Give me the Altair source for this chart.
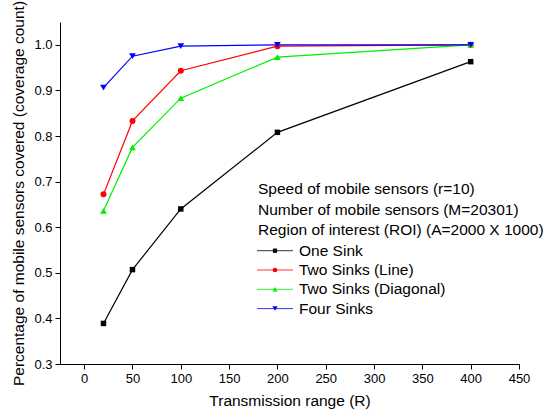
import altair as alt
import pandas as pd

series = ["One Sink", "Two Sinks (Line)", "Two Sinks (Diagonal)", "Four Sinks"]
colors = ["#000000", "#ff0000", "#00ee00", "#0000ff"]
shapes = ["square", "circle", "triangle-up", "triangle-down"]
ranges = [20, 50, 100, 200, 400]
one_sink = [0.389, 0.507, 0.640, 0.808, 0.963]
two_line = [0.672, 0.833, 0.943, 0.997, 1.000]
two_diag = [0.636, 0.775, 0.883, 0.973, 1.000]
four_sinks = [0.906, 0.975, 0.997, 1.000, 1.000]
legend_title = ["Speed of mobile sensors (r=10)", "Number of mobile sensors (M=20301)",
                "Region of interest (ROI) (A=2000 X 1000)"]

values = [one_sink, two_line, two_diag, four_sinks]
rows = []
for s, vals in zip(series, values):
    for r, v in zip(ranges, vals):
        rows.append({"R": r, "P": v, "series": s})
df = pd.DataFrame(rows)

FONT = "Liberation Sans"

x_major = list(range(0, 451, 50))
y_major = [round(0.3 + 0.1 * i, 1) for i in range(0, 8)]

common_axis = dict(
    grid=False, domainColor="black", tickColor="black", labelColor="black",
    titleColor="black", labelFontSize=13, titleFontSize=15.5, titleFontWeight="normal",
    labelFont=FONT, titleFont=FONT, labelFlush=False, labelOverlap=False, tickSize=5,
)

x_enc = alt.X("R:Q", scale=alt.Scale(domain=[-25, 450], nice=False, zero=False),
              axis=alt.Axis(values=x_major, format="d", title="Transmission range (R)",
                            labelPadding=3, titlePadding=8, **common_axis))
y_enc = alt.Y("P:Q", scale=alt.Scale(domain=[0.3, 1.05], nice=False, zero=False),
              axis=alt.Axis(values=y_major, format=".1f",
                            title="Percentage of mobile sensors covered (coverage count)",
                            labelPadding=3, titlePadding=7, **common_axis))

color_scale = alt.Scale(domain=series, range=colors)
base = alt.Chart(df)

lines = base.mark_line(strokeWidth=1.2).encode(
    x=x_enc, y=y_enc,
    color=alt.Color("series:N", scale=color_scale, legend=None),
    detail="series:N",
)

layers = [lines]
sizes = [30, 36, 45, 45]
for s, shp, sz in zip(series, shapes, sizes):
    layers.append(
        base.transform_filter(alt.datum.series == s)
        .mark_point(shape=shp, filled=True, size=sz, opacity=1)
        .encode(x="R:Q", y="P:Q",
                color=alt.Color("series:N", scale=color_scale, legend=None))
    )

# legend block (drawn as decoration relative to the plot area)
LX_TEXT = 198
LX_LABEL = 239
LX_SYM0, LX_SYM1 = 197, 233
title_y = [167, 187.5, 208]
entry_y = [228.7, 248, 267.3, 286.6]

for line, ty in zip(legend_title, title_y):
    layers.append(
        alt.Chart(pd.DataFrame({"t": [line]}))
        .mark_text(align="left", baseline="middle", font=FONT, fontSize=15.5, color="black")
        .encode(x=alt.value(LX_TEXT), y=alt.value(ty), text="t:N")
    )

for s, c, shp, sz, ey in zip(series, colors, shapes, sizes, entry_y):
    one = pd.DataFrame({"t": [s]})
    layers.append(
        alt.Chart(one).mark_rule(color=c, strokeWidth=1, opacity=0.8)
        .encode(x=alt.value(LX_SYM0), x2=alt.value(LX_SYM1), y=alt.value(ey))
    )
    layers.append(
        alt.Chart(one).mark_point(shape=shp, filled=True, size=sz * 0.6, color=c, opacity=1)
        .encode(x=alt.value((LX_SYM0 + LX_SYM1) / 2), y=alt.value(ey))
    )
    layers.append(
        alt.Chart(one).mark_text(align="left", baseline="middle", font=FONT, fontSize=15.5,
                                 color="black")
        .encode(x=alt.value(LX_LABEL), y=alt.value(ey), text="t:N")
    )

chart = (
    alt.layer(*layers)
    .properties(
        width=459,
        height=342,
        autosize=alt.AutoSizeParams(type="none"),
        padding={"left": 60, "top": 22, "right": 37, "bottom": 54},
        background="white",
    )
    .configure_view(stroke=None)
)

chart.save("out.html", embed_options={"renderer": "svg", "actions": False})
